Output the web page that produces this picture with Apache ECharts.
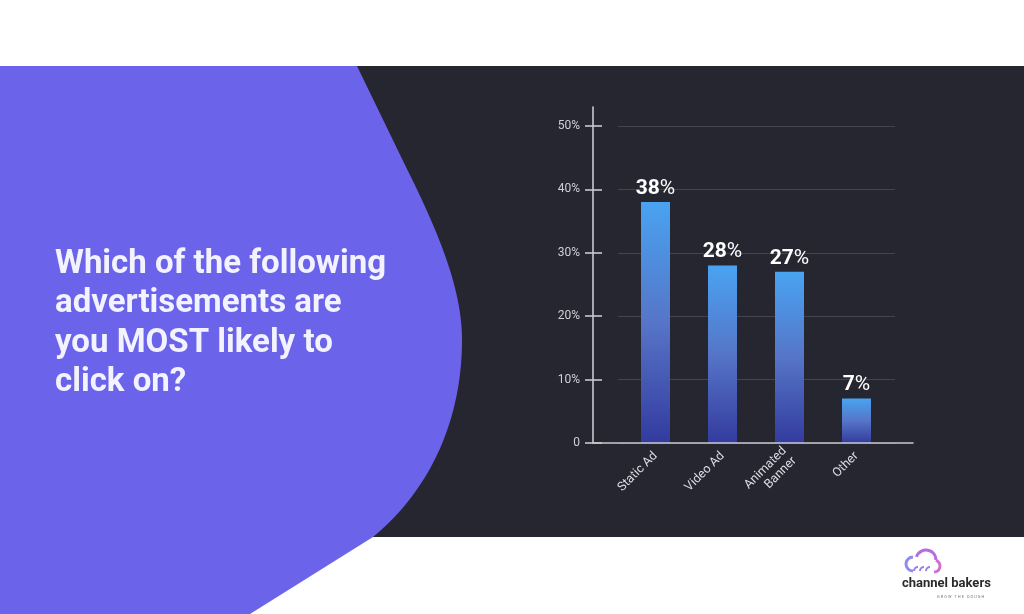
<!DOCTYPE html>
<html>
<head>
<meta charset="utf-8">
<script src="https://cdn.jsdelivr.net/npm/echarts@6/dist/echarts.min.js"></script>
<style>
html,body{margin:0;padding:0;background:#fff;}
#chart{width:1024px;height:614px;}
</style>
</head>
<body>
<div id="chart"></div>
<script>
// ---- data ----
const categories = ['Static Ad', 'Video Ad', 'Animated\nBanner', 'Other'];
const values = [38, 28, 27, 7];
const yTicks = [0, 10, 20, 30, 40, 50];
const titleLines = ['Which of the following', 'advertisements are', 'you MOST likely to', 'click on?'];

const chart = echarts.init(document.getElementById('chart'), null, {renderer: 'canvas'});
const FONT = 'Roboto';
const DARK = '#262631';
const PURPLE = '#6B64EA';

function cubic(p0, p1, p2, p3, n) {
  const pts = [];
  for (let i = 1; i <= n; i++) {
    const t = i / n, u = 1 - t;
    pts.push([u*u*u*p0[0] + 3*u*u*t*p1[0] + 3*u*t*t*p2[0] + t*t*t*p3[0],
              u*u*u*p0[1] + 3*u*u*t*p1[1] + 3*u*t*t*p2[1] + t*t*t*p3[1]]);
  }
  return pts;
}
const blob = [[0, 66], [357, 66], [405, 165]]
  .concat(cubic([405, 165], [440, 235], [462, 290], [462, 340], 30))
  .concat(cubic([462, 340], [462, 420], [430, 490], [373, 537], 30))
  .concat([[250, 614], [0, 614]]);

const graphics = [
  {type: 'rect', z: -10, shape: {x: 0, y: 66, width: 1024, height: 471}, style: {fill: DARK}},
  {type: 'polygon', z: -9, shape: {points: blob}, style: {fill: PURPLE}}
];
titleLines.forEach((t, i) => {
  graphics.push({type: 'text', z: -8, x: 55, y: 248 + i * 39.5,
    style: {text: t, fill: '#F3F2FF', font: 'bold 33px ' + FONT, verticalAlign: 'top', align: 'left'}});
});
// logo
graphics.push({type: 'arc', z: -8, shape: {cx: 913, cy: 564, r: 7, startAngle: Math.PI * 0.5, endAngle: Math.PI * 1.5}, style: {stroke: '#8f8cf0', lineWidth: 3, fill: 'none'}});
graphics.push({type: 'arc', z: -8, shape: {cx: 926, cy: 560, r: 10, startAngle: Math.PI * 1.1, endAngle: Math.PI * 2.0}, style: {stroke: '#b86ae0', lineWidth: 3, fill: 'none'}});
graphics.push({type: 'arc', z: -8, shape: {cx: 934, cy: 566, r: 6, startAngle: Math.PI * 1.6, endAngle: Math.PI * 2.5}, style: {stroke: '#d070d2', lineWidth: 3, fill: 'none'}});
[918, 924, 930].forEach(cx => {
  graphics.push({type: 'arc', z: -8, shape: {cx: cx, cy: 571, r: 4, startAngle: Math.PI * 1.0, endAngle: Math.PI * 1.5}, style: {stroke: '#9a7fe8', lineWidth: 2, fill: 'none'}});
});
graphics.push({type: 'text', z: -8, x: 902, y: 584, style: {text: 'channel bakers', fill: '#2a2a2a', font: 'bold 13px ' + FONT, verticalAlign: 'middle'}});
graphics.push({type: 'text', z: -8, x: 937, y: 597, style: {text: 'G R O W   T H E   D O U G H', fill: '#777', font: '4px ' + FONT, verticalAlign: 'middle'}});

const axisCol = '#c8c8d0';
const hiddenX = gi => ({type: 'value', gridIndex: gi, show: false});
const option = {
  backgroundColor: '#ffffff',
  animation: false,
  graphic: graphics,
  grid: [
    {left: 622, top: 126, width: 268, height: 317},
    {left: 593, top: 107, width: 320, height: 336},
    {left: 618, top: 126, width: 277, height: 317},
    {left: 593, top: 126, width: 320, height: 317}
  ],
  xAxis: [
    {type: 'category', gridIndex: 0, data: categories,
      axisLine: {show: false}, axisTick: {show: false},
      axisLabel: {rotate: 45, color: '#dcdce4', fontSize: 12.5, fontFamily: FONT, margin: 11, interval: 0, lineHeight: 14}},
    {type: 'value', gridIndex: 1, min: 0, max: 1, axisLine: {show: true, lineStyle: {color: axisCol, width: 1.6}}, axisTick: {show: false}, axisLabel: {show: false}, splitLine: {show: false}, z: 5},
    hiddenX(2),
    hiddenX(3)
  ],
  yAxis: [
    {type: 'value', gridIndex: 0, min: 0, max: 50, show: false},
    {type: 'value', gridIndex: 1, min: 0, max: 1, axisLine: {show: true, lineStyle: {color: axisCol, width: 1.6}}, axisTick: {show: false}, axisLabel: {show: false}, splitLine: {show: false}, z: 5},
    {type: 'value', gridIndex: 2, min: 0, max: 50, interval: 10, offset: 25,
      axisLine: {show: false}, axisTick: {show: false},
      axisLabel: {color: '#d0d0d8', fontSize: 12, fontFamily: FONT, margin: 13, formatter: v => yTicks.includes(v) ? (v === 0 ? '0' : v + '%') : ''},
      splitLine: {show: true, lineStyle: {color: '#44444f', width: 1}}},
    {type: 'value', gridIndex: 3, min: 0, max: 50, interval: 10,
      axisLine: {show: false},
      axisTick: {show: true, length: 8, lineStyle: {color: axisCol, width: 1.6}},
      axisLabel: {show: false}, splitLine: {show: false}},
    {type: 'value', gridIndex: 3, min: 0, max: 50, interval: 10, position: 'left',
      axisLine: {show: false},
      axisTick: {show: true, inside: true, length: 9, lineStyle: {color: axisCol, width: 1.6}},
      axisLabel: {show: false}, splitLine: {show: false}}
  ],
  series: [{
    type: 'bar', xAxisIndex: 0, yAxisIndex: 0, data: values, barWidth: 29, z: 3,
    itemStyle: {color: new echarts.graphic.LinearGradient(0, 0, 0, 1, [{offset: 0, color: '#49A3F1'}, {offset: 0.5, color: '#5675C8'}, {offset: 1, color: '#333B9E'}])},
    label: {show: true, position: 'top', distance: 3, formatter: p => '{n|' + p.value + '}{p|%}',
      rich: {
        n: {color: '#ffffff', fontSize: 21, fontWeight: 'bold', fontFamily: FONT},
        p: {color: '#ffffff', fontSize: 21, fontWeight: 'normal', fontFamily: FONT}
      }}
  }]
};
chart.setOption(option);
</script>
</body>
</html>
